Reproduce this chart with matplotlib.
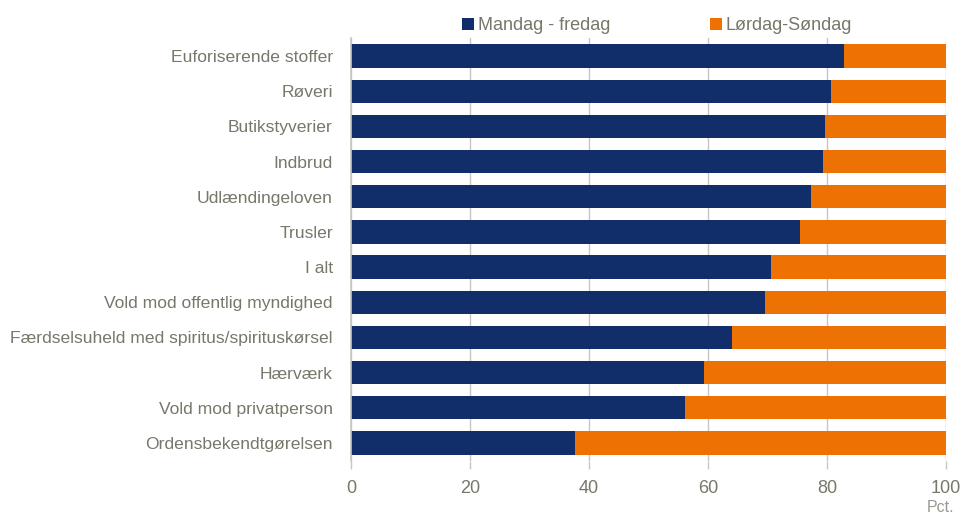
import matplotlib
matplotlib.use("Agg")
import matplotlib.pyplot as plt

categories = ["Euforiserende stoffer", "Røveri", "Butikstyverier", "Indbrud",
              "Udlændingeloven", "Trusler", "I alt", "Vold mod offentlig myndighed",
              "Færdselsuheld med spiritus/spirituskørsel", "Hærværk",
              "Vold mod privatperson", "Ordensbekendtgørelsen"]
weekday = [82.9, 80.6, 79.7, 79.3, 77.3, 75.5, 70.6, 69.6, 64.0, 59.3, 56.2, 37.7]
weekend = [100 - v for v in weekday]
series_names = ["Mandag - fredag", "Lørdag-Søndag"]
xticks = [0, 20, 40, 60, 80, 100]

plt.rcParams['font.family'] = ["Liberation Sans", "DejaVu Sans"]

NAVY = "#112d6a"
ORANGE = "#ee7203"
TXT = "#77776a"
GRID = "#c8c6bd"

fig = plt.figure(figsize=(9.66, 5.18), dpi=100)
ax = fig.add_axes([0.3634, 0.1108, 0.6159, 0.8151])

y = list(range(len(categories)))
h = 0.66
b1 = ax.barh(y, weekday, height=h, color=NAVY, label=series_names[0], zorder=3)
b2 = ax.barh(y, weekend, left=weekday, height=h, color=ORANGE, label=series_names[1], zorder=3)

ax.set_ylim(len(categories) - 0.5, -0.5)
ax.set_xlim(0, 100)
ax.set_yticks(y)
ax.set_yticklabels(categories, fontsize=12.6, color=TXT)
ax.set_xticks(xticks)
ax.set_xticklabels([str(t) for t in xticks], fontsize=13, color=TXT)
ax.tick_params(axis='y', length=0, pad=13)
ax.tick_params(axis='x', length=6, width=1, color=GRID, pad=8, direction='out')
ax.grid(axis='x', color=GRID, linewidth=1, zorder=0)
for s in ['top', 'right', 'bottom']:
    ax.spines[s].set_visible(False)
ax.spines['left'].set_color(GRID)
ax.spines['left'].set_linewidth(1.2)
ax.spines['left'].set_zorder(4)

fig.text(0.988, 0.006, "Pct.", ha='right', va='bottom', fontsize=11.5, color="#9a9a90")

leg = fig.legend(handles=[b1, b2], labels=series_names, loc='upper left',
                 bbox_to_anchor=(0.461, 0.998), ncol=2, frameon=False,
                 fontsize=13, handlelength=0.7, handleheight=0.7,
                 handletextpad=0.2, columnspacing=5.5)
for t in leg.get_texts():
    t.set_color(TXT)

fig.savefig("out.png", dpi=100)
